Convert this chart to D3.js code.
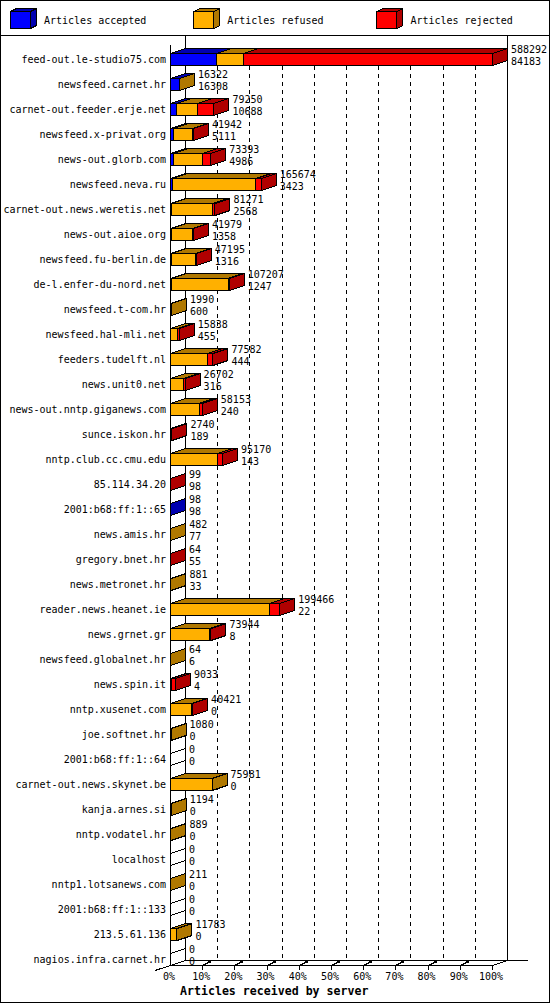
<!DOCTYPE html>
<html><head><meta charset="utf-8">
<script src="https://cdn.jsdelivr.net/npm/d3@7"></script>
<style>
body{margin:0;background:#fff}
svg{display:block}
text{font-family:"DejaVu Sans Mono",monospace;font-size:10px;fill:#000}
</style>
</head><body>
<svg id="chart" width="550" height="1005"></svg>
<script>
const categories = ["feed-out.le-studio75.com","newsfeed.carnet.hr","carnet-out.feeder.erje.net","newsfeed.x-privat.org","news-out.glorb.com","newsfeed.neva.ru","carnet-out.news.weretis.net","news-out.aioe.org","newsfeed.fu-berlin.de","de-l.enfer-du-nord.net","newsfeed.t-com.hr","newsfeed.hal-mli.net","feeders.tudelft.nl","news.unit0.net","news-out.nntp.giganews.com","sunce.iskon.hr","nntp.club.cc.cmu.edu","85.114.34.20","2001:b68:ff:1::65","news.amis.hr","gregory.bnet.hr","news.metronet.hr","reader.news.heanet.ie","news.grnet.gr","newsfeed.globalnet.hr","news.spin.it","nntp.xusenet.com","joe.softnet.hr","2001:b68:ff:1::64","carnet-out.news.skynet.be","kanja.arnes.si","nntp.vodatel.hr","localhost","nntp1.lotsanews.com","2001:b68:ff:1::133","213.5.61.136","nagios.infra.carnet.hr"];
const accepted = [84183,16308,10688,5111,4986,3423,2568,1358,1316,1247,600,455,444,316,240,189,143,98,98,77,55,33,22,8,6,4,0,0,0,0,0,0,0,0,0,0,0];
const refused  = [49700,14,38100,34500,53900,152700,74200,39000,45079,103960,1390,12200,67000,23500,52000,1500,86400,0,0,405,0,848,180900,71500,58,2000,38500,1080,0,75981,1194,889,0,211,0,11783,0];
const rejected = [454409,0,30462,2331,14507,9551,4503,1621,800,2000,0,3183,10138,2886,5913,1051,8627,1,0,0,9,0,18544,2436,0,7029,1921,0,0,0,0,0,0,0,0,0,0];
const seriesNames = ["Articles accepted","Articles refused","Articles rejected"];
const frontColors = ["#0000ff","#ffb000","#ff0000"];
const darkColors  = ["#0000b0","#b07800","#b00000"];
const percentTicks = [0,10,20,30,40,50,60,70,80,90,100];
const axisTitle = "Articles received by server";

const svg = d3.select("#chart");
const DX = 15, DY = 5, BH = 12;
const series = [accepted, refused, rejected];
const totals = categories.map((c,i) => accepted[i] + refused[i] + rejected[i]);
const maxTotal = d3.max(totals);

const x = d3.scaleLinear().domain([0, maxTotal]).range([170.5, 492.5]);
const xp = d3.scaleLinear().domain([0, 100]).range([170.5, 492.5]);
const y = d3.scaleBand().domain(categories).range([47, 47 + 25 * categories.length]);

const line = (x1,y1,x2,y2) => `M${x1},${y1}L${x2},${y2}`;

// frame
svg.append("rect").attr("x",0.5).attr("y",0.5).attr("width",549).attr("height",1002)
  .attr("fill","#fff").attr("stroke","#000").attr("shape-rendering","crispEdges");
svg.append("path").attr("d", line(0,35.5,550,35.5)).attr("stroke","#000").attr("shape-rendering","crispEdges");

// legend
const lg = svg.append("g");
seriesNames.forEach((name,k) => {
  const lx = 10.5 + k * 183.2, ly = 11.5, w = 20, h = 17, dx = 6, dy = 3;
  const g = lg.append("g").attr("stroke","#000").attr("shape-rendering","crispEdges");
  g.append("path").attr("d", `M${lx},${ly}L${lx+dx},${ly-dy}L${lx+w+dx},${ly-dy}L${lx+w},${ly}Z`).attr("fill", darkColors[k]);
  g.append("path").attr("d", `M${lx+w},${ly}L${lx+w+dx},${ly-dy}L${lx+w+dx},${ly+h-dy}L${lx+w},${ly+h}Z`).attr("fill", darkColors[k]);
  g.append("rect").attr("x",lx).attr("y",ly).attr("width",w).attr("height",h).attr("fill", frontColors[k]);
  lg.append("text").attr("x", lx + 33.5).attr("y", 23.6).text(name);
});

// grid lines on back wall
const grid = svg.append("g").attr("stroke","#000").attr("stroke-dasharray","4,4").attr("shape-rendering","crispEdges");
percentTicks.filter(p => p > 0 && p < 100).forEach(p => {
  const gx = Math.round(xp(p) + DX - 0.5) + 0.5;
  grid.append("path").attr("d", line(gx, 66, gx, 960.5));
});

// walls and floor
const walls = svg.append("g").attr("stroke","#000").attr("fill","none").attr("shape-rendering","crispEdges");
walls.append("path").attr("d", line(185.5, 35.5, 185.5, 960.5));
walls.append("path").attr("d", line(507.5, 35.5, 507.5, 960.5));
walls.append("path").attr("d", line(170.5, 45, 170.5, 965.5));
walls.append("path").attr("d", line(170.5, 965.5, 492.5, 965.5));
walls.append("path").attr("d", line(185.5, 960.5, 528, 960.5));
walls.append("path").attr("d", line(492.5, 965.5, 507.5, 960.5));
walls.append("path").attr("d", line(155, 970.5, 185.5, 960.5));

// ticks on the floor
const tk = svg.append("g").attr("stroke","#000").attr("shape-rendering","crispEdges");
percentTicks.filter(p => p > 0).forEach(p => {
  const tx = Math.round(xp(p) - 0.5) + 0.5;
  tk.append("path").attr("d", line(tx, 965.5, tx, 969.5));
  if (p < 100) {
    tk.append("path").attr("d", line(tx, 965.5, tx + 6, 962.5));
    tk.append("rect").attr("x", tx + 5.5).attr("y", 960.5).attr("width", 2).attr("height", 2).attr("fill","#000");
  }
});
svg.append("g").selectAll("text").data(percentTicks).join("text")
  .attr("x", p => xp(p) - 1.5).attr("y", 979.6).attr("text-anchor","middle").text(p => p + "%");
svg.append("text").attr("x", 180).attr("y", 995.2)
  .style("font-weight","bold").style("font-size","11.6px").text(axisTitle);

// bars
const bars = svg.append("g").attr("stroke","#000").attr("shape-rendering","crispEdges");
categories.forEach((c,i) => {
  const yt = y(c) + 6.5;
  let cum = 0;
  series.forEach((s,k) => {
    const x0 = x(cum); cum += s[i]; const x1 = x(cum);
    const g = bars.append("g");
    if (s[i] === 0) {
      g.append("path").attr("fill","none")
        .attr("d", line(x0, yt, x0 + DX, yt - DY) + line(x0, yt + BH, x0 + DX, yt + BH - DY));
      return;
    }
    g.append("path").attr("fill", darkColors[k])
      .attr("d", `M${x0},${yt}L${x0+DX},${yt-DY}L${x1+DX},${yt-DY}L${x1},${yt}Z`);
    g.append("path").attr("fill", darkColors[k])
      .attr("d", `M${x1},${yt}L${x1+DX},${yt-DY}L${x1+DX},${yt+BH-DY}L${x1},${yt+BH}Z`);
    g.append("rect").attr("fill", frontColors[k])
      .attr("x", x0).attr("y", yt).attr("width", Math.max(0, x1 - x0)).attr("height", BH);
  });
});

// category labels
svg.append("g").selectAll("text").data(categories).join("text")
  .attr("x", 166).attr("y", c => y(c) + 12.5 + 3.6).attr("text-anchor","end").text(c => c);

// value labels
const vl = svg.append("g");
categories.forEach((c,i) => {
  const cy = y(c) + 12.5;
  const lx = x(totals[i]) + DX + 3.5;
  vl.append("text").attr("x", lx).attr("y", cy - 6.4).text(totals[i]);
  vl.append("text").attr("x", lx).attr("y", cy + 5.1).text(accepted[i]);
});
</script>
</body></html>
